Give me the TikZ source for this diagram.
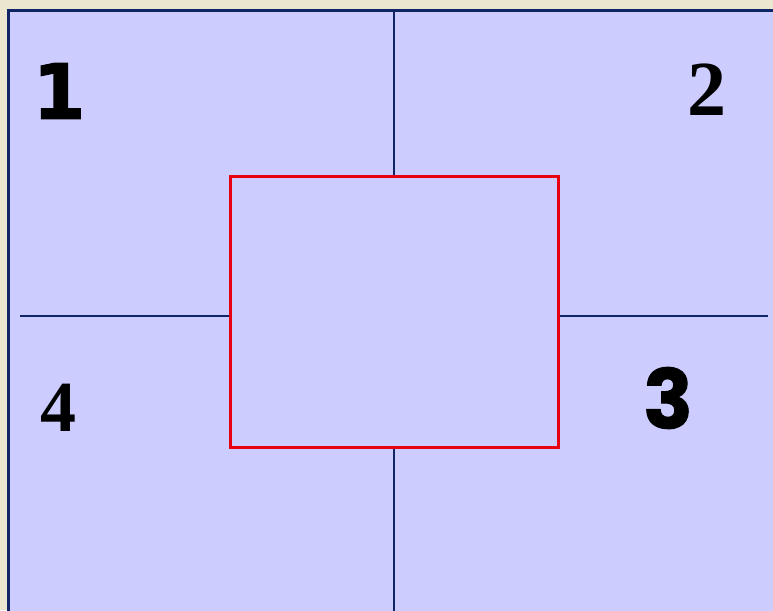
\documentclass[tikz,border=0pt]{standalone}
\usepackage{fontspec}
\usetikzlibrary{positioning,calc}
\newfontfamily\heavyfont[FakeBold=1.6]{DejaVu Sans Bold}
\newfontfamily\roundfont[FakeBold=1.2]{Poppins Bold}
\newfontfamily\serifnum{Liberation Serif}
\definecolor{parchment}{RGB}{236,229,208}
\definecolor{panelblue}{RGB}{204,204,255}
\definecolor{framenavy}{RGB}{16,36,104}
\definecolor{boxred}{RGB}{232,0,16}

\begin{document}
\begin{tikzpicture}[x=1pt, y=-1pt,
  num/.style={inner sep=0pt, text=black},
  divider/.style={draw=framenavy, line width=1.6pt},
  centre/.style={draw=boxred, line width=3pt, rectangle, minimum width=328pt, minimum height=271pt, inner sep=0pt}
]
\useasboundingbox (0,0) rectangle (773,610);
\fill[parchment] (0,0) rectangle (773,610);
\filldraw[fill=panelblue, draw=framenavy, line width=3pt] (8.5,10.5) rectangle (790,630);

\node[centre] (box) at (394,311.5) {};

\coordinate (top) at (394,12);
\coordinate (bottom) at (394,612);
\coordinate (left) at (20,316);
\coordinate (right) at (768,316);

\draw[divider] (top) -- (box.north);
\draw[divider] (box.south) -- (bottom);
\draw[divider] (left) -- (left -| box.west);
\draw[divider] (box.east |- right) -- (right);

\node[num, font=\heavyfont\fontsize{76}{76}\selectfont] (q1) at (59,91) {1};
\node[num, font=\serifnum\bfseries\fontsize{78}{78}\selectfont] (q2) at (707,90) {2};
\node[num, font=\roundfont\fontsize{82}{82}\selectfont] (q3) at (668,398) {3};
\node[num, font=\serifnum\bfseries\fontsize{72}{72}\selectfont] (q4) at (58,408) {4};
\end{tikzpicture}
\end{document}
